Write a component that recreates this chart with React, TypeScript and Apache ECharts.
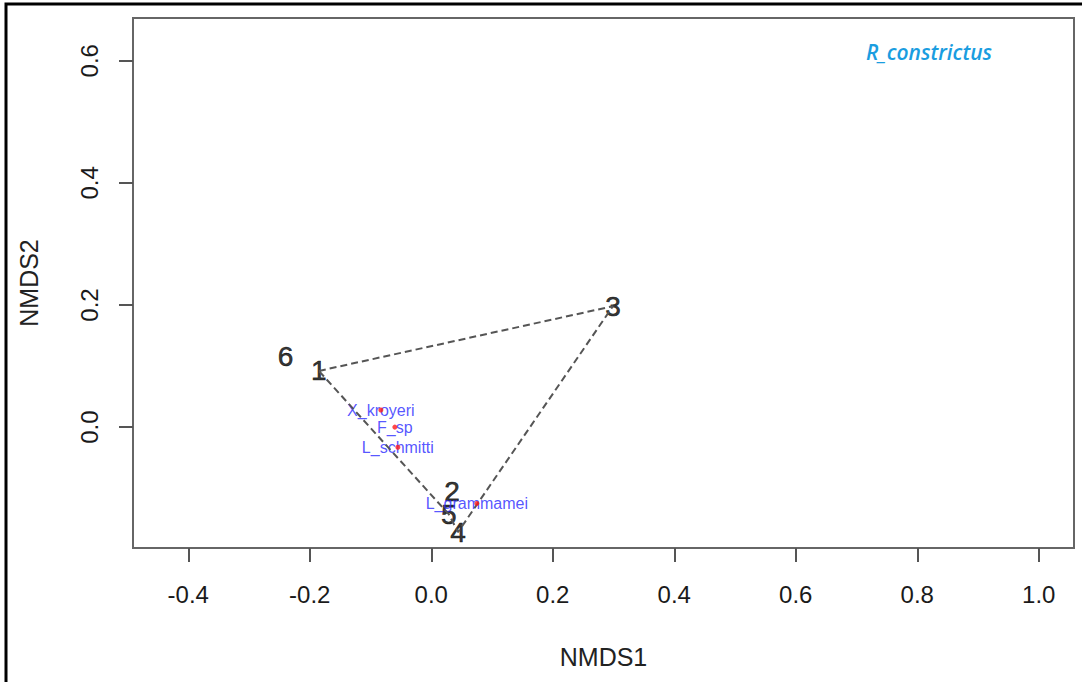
import React, { useEffect, useRef } from "react";
import * as echarts from "echarts";

const siteNames = ["1", "2", "3", "4", "5", "6"];
const siteX = [-0.185, 0.034, 0.299, 0.044, 0.029, -0.24];
const siteY = [0.092, -0.105, 0.198, -0.172, -0.143, 0.116];
const hullOrder = [0, 2, 3, 4, 0];

const speciesNames = ["X_kroyeri", "F_sp", "L_schmitti", "L_grammamei"];
const speciesX = [-0.083, -0.06, -0.055, 0.075];
const speciesY = [0.028, 0.0, -0.033, -0.125];

const xTicks = [-0.4, -0.2, 0.0, 0.2, 0.4, 0.6, 0.8, 1.0];
const yTicks = [0.0, 0.2, 0.4, 0.6];

const annotationText = "R_constrictus";

export default function App() {
  const ref = useRef<HTMLDivElement>(null);
  useEffect(() => {
    if (!ref.current) return;
    const chart = echarts.init(ref.current, undefined, { renderer: "svg" });
    const font = "Liberation Sans, Arial, sans-serif";
    const fmt = (v: number) => Number(v).toFixed(1);
    chart.setOption({
      animation: false,
      backgroundColor: "#ffffff",
      grid: {
        left: 133,
        right: 8,
        top: 18,
        bottom: 134,
        show: true,
        borderColor: "#666",
        borderWidth: 2,
        containLabel: false,
      },
      xAxis: {
        type: "value",
        min: -0.491,
        max: 1.058,
        name: "NMDS1",
        nameLocation: "middle",
        nameGap: 96,
        nameTextStyle: { fontFamily: font, fontSize: 25, color: "#222" },
        axisLine: { show: true, onZero: false, lineStyle: { color: "#666", width: 2 } },
        axisTick: { show: true, length: 14, customValues: xTicks, lineStyle: { color: "#555", width: 2 } },
        axisLabel: {
          customValues: xTicks,
          formatter: fmt,
          margin: 34,
          fontFamily: font,
          fontSize: 24,
          color: "#1a1a1a",
        },
        splitLine: { show: false },
      },
      yAxis: {
        type: "value",
        min: -0.198,
        max: 0.67,
        name: "NMDS2",
        nameLocation: "middle",
        nameGap: 92,
        nameRotate: 90,
        nameTextStyle: { fontFamily: font, fontSize: 25, color: "#222" },
        axisLine: { show: true, onZero: false, lineStyle: { color: "#666", width: 2 } },
        axisTick: { show: true, length: 14, customValues: yTicks, lineStyle: { color: "#555", width: 2 } },
        axisLabel: {
          customValues: yTicks,
          formatter: fmt,
          rotate: 90,
          margin: 32,
          align: "center",
          verticalAlign: "bottom",
          fontFamily: font,
          fontSize: 24,
          color: "#1a1a1a",
        },
        splitLine: { show: false },
      },
      series: [
        {
          type: "scatter",
          z: 2,
          symbolSize: 1,
          itemStyle: { color: "rgba(0,0,0,0)" },
          data: siteNames.map((n, i) => ({ name: n, value: [siteX[i], siteY[i]] })),
          label: {
            show: true,
            position: "inside",
            formatter: (p: any) => p.name,
            fontFamily: font,
            fontSize: 28,
            color: "#000",
            textBorderColor: "#000",
            textBorderWidth: 0.6,
          },
        },
        {
          type: "scatter",
          z: 2,
          symbolSize: 1,
          itemStyle: { color: "rgba(0,0,0,0)" },
          data: speciesNames.map((n, i) => ({ name: n, value: [speciesX[i], speciesY[i]] })),
          label: {
            show: true,
            position: "inside",
            formatter: (p: any) => p.name,
            fontFamily: font,
            fontSize: 16,
            color: "#2a2aff",
          },
        },
        {
          type: "scatter",
          z: 4,
          symbolSize: 5,
          itemStyle: { color: "#ff1a1a" },
          data: speciesNames.map((n, i) => [speciesX[i], speciesY[i]]),
        },
        {
          type: "line",
          z: 3,
          symbol: "none",
          lineStyle: { color: "#555", width: 2, type: [7, 4] },
          data: hullOrder.map((i) => [siteX[i], siteY[i]]),
        },
      ],
      graphic: [
        {
          type: "text",
          x: 929,
          y: 52,
          style: {
            text: annotationText,
            fontFamily: "Open Sans, sans-serif",
            fontStyle: "italic",
            fontWeight: 600,
            fontSize: 21,
            fill: "#1a9de0",
            align: "center",
            verticalAlign: "middle",
          },
        },
        {
          type: "polyline",
          shape: { points: [[6, 682], [6, 4], [1082, 4]] },
          style: { stroke: "#000", lineWidth: 3, fill: "none" },
        },
      ],
    });
    return () => chart.dispose();
  }, []);
  return (
    <div
      ref={ref}
      style={{ position: "fixed", left: 0, top: 0, width: 1082, height: 682 }}
    />
  );
}
